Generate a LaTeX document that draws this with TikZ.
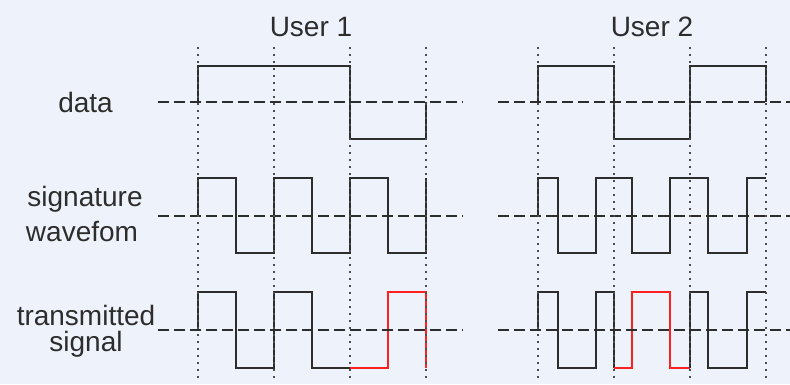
\documentclass[tikz,border=0pt]{standalone}
\usepackage{fontspec}
\setmainfont{Liberation Sans}
\usepackage{tikz}
\usetikzlibrary{positioning}

\definecolor{paper}{RGB}{238,242,250}
\definecolor{ink}{RGB}{45,45,45}
\definecolor{flip}{RGB}{255,32,32}

\begin{document}
\begin{tikzpicture}[x=1pt,y=-1pt,
    wave/.style={ink, line width=2.2pt, line join=miter},
    flipped/.style={flip, line width=2.2pt, line join=miter},
    zeroline/.style={ink, line width=2.2pt, dash pattern=on 11pt off 5pt},
    bitedge/.style={ink!85, line width=2pt, dash pattern=on 2pt off 5pt},
    lbl/.style={anchor=base, inner sep=0pt, text=ink, font=\fontsize{28}{28}\selectfont}]
  % Background
  \fill[paper] (0,0) rectangle (790,384);
  \useasboundingbox (0,0) rectangle (790,384);

  % Titles
  \node[lbl] (user1) at (311,36.7) {User 1};
  \node[lbl] (user2) at (652,36.7) {User 2};

  % Row labels
  \node[lbl] (data) at (85.5,112.7) {data};
  \node[lbl] (sig) at (85,206.7) {signature};
  \node[lbl] (wave) at (82,241.7) {wavefom};
  \node[lbl] (trans) at (86,325) {transmitted};
  \node[lbl] (signal) at (86,351.7) {signal};

  % User 1 data
  \draw[wave] (198,102) -- (198,66) -- (350,66) -- (350,139) -- (426,139) -- (426,102);
  % User 1 signature waveform
  \draw[wave] (198,216) -- (198,178) -- (236,178) -- (236,253) -- (274,253) -- (274,178)
    -- (312,178) -- (312,253) -- (350,253) -- (350,178) -- (388,178) -- (388,253)
    -- (426,253) -- (426,178);
  % User 1 transmitted signal
  \draw[wave] (198,330) -- (198,292) -- (236,292) -- (236,368) -- (274,368) -- (274,292)
    -- (312,292) -- (312,368) -- (350,368);
  \draw[flipped] (350,368) -- (388,368) -- (388,292) -- (426,292) -- (426,368);

  % User 2 data
  \draw[wave] (538,102) -- (538,66) -- (614,66) -- (614,139) -- (690,139) -- (690,66)
    -- (766,66) -- (766,102);
  % User 2 signature waveform
  \draw[wave] (538,216) -- (538,178) -- (558,178) -- (558,253) -- (596,253) -- (596,178)
    -- (632,178) -- (632,253) -- (670,253) -- (670,178) -- (708,178) -- (708,253)
    -- (747,253) -- (747,178) -- (766,178);
  % User 2 transmitted signal
  \draw[wave] (538,330) -- (538,292) -- (558,292) -- (558,368) -- (596,368) -- (596,292)
    -- (614,292) -- (614,368);
  \draw[flipped] (614,368) -- (632,368) -- (632,292) -- (670,292) -- (670,368) -- (690,368);
  \draw[wave] (690,368) -- (690,292) -- (708,292) -- (708,368) -- (747,368) -- (747,292)
    -- (766,292);

  % Zero lines
  \foreach \y in {102,216,330} {
    \draw[zeroline] (158,\y) -- (463,\y);
    \draw[zeroline] (498,\y) -- (792,\y);
  }

  % Bit boundaries
  \foreach \x in {198,274,350,426,538,614,690,766}
    \draw[bitedge] (\x,47) -- (\x,381);
\end{tikzpicture}
\end{document}
